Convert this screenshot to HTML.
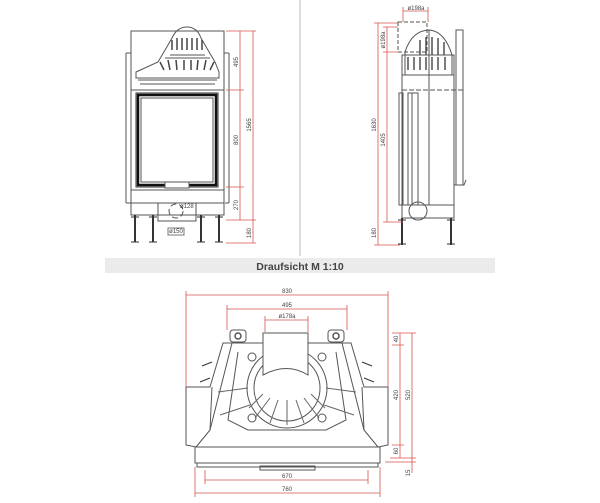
<!DOCTYPE html>
<html><head><meta charset="utf-8"><style>
html,body{margin:0;padding:0;background:#fff;width:600px;height:503px;overflow:hidden}
svg{display:block}
text{font-family:"Liberation Sans",sans-serif}
</style></head><body>
<svg width="600" height="503" viewBox="0 0 600 503" xmlns="http://www.w3.org/2000/svg">
<g fill="none" stroke="#555" stroke-width="1">
<!-- separator -->
<line x1="300" y1="0" x2="300" y2="256" stroke="#bbb"/>
<!-- FRONT VIEW -->
<rect x="131" y="31" width="93" height="172"/>
<line x1="126" y1="53" x2="126" y2="203"/>
<line x1="126" y1="53" x2="131" y2="53"/>
<line x1="229" y1="53" x2="229" y2="203"/>
<line x1="224" y1="53" x2="229" y2="53"/>
<line x1="131" y1="90" x2="224" y2="90"/>
<!-- hood -->
<path d="M136 78 L136 72 L158 62 L168 45 L172 38 Q177 27 187 27 Q197 27 201 38 L205 45 L215 62 L219 72 L219 78 Z"/>
<path d="M138 80 L217 80 M140 84 L215 84"/>
<g stroke="#444" stroke-width="1.5">
<line x1="172" y1="40" x2="172" y2="50"/><line x1="177" y1="38" x2="177" y2="50"/><line x1="182" y1="38" x2="182" y2="50"/><line x1="187" y1="38" x2="187" y2="50"/><line x1="192" y1="38" x2="192" y2="50"/><line x1="197" y1="38" x2="197" y2="50"/><line x1="202" y1="40" x2="202" y2="50"/>
<line x1="160" y1="62" x2="164" y2="70"/><line x1="168" y1="60" x2="170" y2="70"/><line x1="176" y1="60" x2="177" y2="70"/><line x1="184" y1="60" x2="184" y2="70"/><line x1="191" y1="60" x2="191" y2="70"/><line x1="198" y1="60" x2="197" y2="70"/><line x1="206" y1="60" x2="204" y2="70"/><line x1="214" y1="62" x2="210" y2="70"/>
</g>
<path d="M170 55 L205 55 M165 58 L210 58"/>
<!-- door -->
<rect x="136" y="93" width="82" height="94" stroke="#333"/>
<rect x="138" y="95" width="78" height="90" stroke="#111" stroke-width="2.5"/>
<rect x="141" y="98" width="72" height="84"/>
<rect x="165" y="182" width="24" height="6" fill="#fff"/>
<line x1="131" y1="190" x2="224" y2="190"/>
<line x1="126" y1="203" x2="229" y2="203" stroke-dasharray="6,3"/>
<path d="M131 203 L131 215 L224 215 L224 203"/>
<rect x="158" y="203" width="38" height="18"/>
<circle cx="176" cy="211" r="7" stroke-dasharray="6,3"/>
<g stroke="#333" stroke-width="2">
<line x1="135" y1="215" x2="135" y2="242"/><line x1="153" y1="215" x2="153" y2="242"/><line x1="201" y1="215" x2="201" y2="242"/><line x1="219" y1="215" x2="219" y2="242"/>
</g>
<g stroke="#333"><path d="M131 242 h8 M149 242 h8 M197 242 h8 M215 242 h8 M131 217 h8 M149 217 h8 M197 217 h8 M215 217 h8"/></g>
<rect x="168" y="228" width="16" height="7" stroke="#777"/>
<!-- SIDE VIEW -->
<rect x="398" y="22" width="29" height="30" stroke-dasharray="4,2"/>
<path d="M405 75 L405 52 Q412 30 430 30 Q445 32 452 55 L452 75"/>
<g stroke="#444" stroke-width="1.4"><line x1="420" y1="40" x2="420" y2="55"/><line x1="426" y1="37" x2="426" y2="55"/><line x1="432" y1="37" x2="432" y2="55"/><line x1="438" y1="38" x2="438" y2="55"/><line x1="444" y1="42" x2="444" y2="55"/>
<line x1="408" y1="57" x2="408" y2="70"/><line x1="414" y1="57" x2="414" y2="70"/><line x1="420" y1="57" x2="420" y2="70"/><line x1="426" y1="57" x2="426" y2="70"/><line x1="432" y1="57" x2="432" y2="70"/><line x1="438" y1="57" x2="438" y2="70"/><line x1="445" y1="57" x2="445" y2="70"/></g>
<rect x="402" y="55" width="52" height="150"/>
<line x1="402" y1="75" x2="454" y2="75"/>
<line x1="429" y1="30" x2="429" y2="205"/>
<line x1="402" y1="90" x2="464" y2="90" stroke-dasharray="5,2"/>
<rect x="399" y="93" width="4" height="112"/>
<rect x="408" y="93" width="4" height="112"/>
<rect x="412" y="93" width="6" height="112"/>
<rect x="456" y="30" width="7" height="155"/>
<path d="M454 185 L464 185 L466 180"/>
<rect x="402" y="205" width="52" height="13"/>
<circle cx="418" cy="211" r="9"/>
<g stroke="#333" stroke-width="2"><line x1="402" y1="218" x2="402" y2="245"/><line x1="451" y1="218" x2="451" y2="245"/></g>
<path d="M398 220 h8 M447 220 h8 M398 244 h8 M447 244 h8" stroke="#333"/>
<!-- TOP VIEW -->
<path d="M186 387 L210 387 L223 343 L351 343 L364 387 L388 387 L388 445 L378 447 L196 447 L186 445 Z"/>
<path d="M196 447 L210 430 L212 387 M378 447 L364 430 L362 387"/>
<path d="M232 343 L210 430 M342 343 L364 430"/>
<path d="M238 352 L228 420 L248 430 L326 430 L346 420 L336 352"/>
<circle cx="287" cy="388" r="40"/>
<circle cx="287" cy="388" r="33"/>
<path d="M263 333 L308 333 L308 375 Q287 362 263 375 Z" fill="#fff"/>
<g stroke="#666"><line x1="287" y1="400" x2="287" y2="425"/><line x1="278" y1="400" x2="270" y2="423"/><line x1="296" y1="400" x2="304" y2="423"/><line x1="270" y1="398" x2="255" y2="418"/><line x1="304" y1="398" x2="319" y2="418"/><line x1="263" y1="394" x2="249" y2="408"/><line x1="311" y1="394" x2="325" y2="408"/><line x1="248" y1="388" x2="218" y2="392"/><line x1="326" y1="388" x2="356" y2="392"/><line x1="250" y1="405" x2="220" y2="415"/><line x1="324" y1="405" x2="354" y2="415"/></g>
<rect x="230" y="330" width="16" height="12" rx="3"/><circle cx="238" cy="336" r="3" stroke-width="1.5"/>
<rect x="328" y="330" width="16" height="12" rx="3"/><circle cx="336" cy="336" r="3" stroke-width="1.5"/>
<circle cx="252" cy="357" r="4"/><circle cx="322" cy="357" r="4"/><circle cx="252" cy="418" r="4"/><circle cx="322" cy="418" r="4"/>
<path d="M212 362 l-10 4 M210 378 l-10 4 M362 362 l10 4 M364 378 l10 4" stroke="#333"/>
<rect x="195" y="447" width="185" height="16"/>
<rect x="197" y="463" width="181" height="4"/>
<rect x="260" y="466" width="55" height="4"/>
</g>
<!-- dimensions -->
<g stroke="#d9534f" stroke-width="0.8" fill="none">
<line x1="240" y1="31" x2="240" y2="220"/><line x1="253" y1="31" x2="253" y2="243"/>
<path d="M226 31 h30 M226 90 h18 M226 187 h18 M226 220 h30 M226 243 h30"/>
<line x1="378" y1="23" x2="378" y2="245"/><line x1="387" y1="27" x2="387" y2="222"/>
<path d="M374 23 h24 M383 27 h15 M383 52 h15 M383 222 h20 M374 245 h26"/>
<path d="M403 7 v15 M428 7 v15 M403 11 h25"/>
<line x1="186" y1="295" x2="388" y2="295"/><path d="M186 291 v96 M388 291 v96"/>
<line x1="227" y1="309" x2="347" y2="309"/><path d="M227 305 v25 M347 305 v25"/>
<line x1="265" y1="320" x2="308" y2="320"/><path d="M265 316 v16 M308 316 v16"/>
<line x1="400" y1="333" x2="400" y2="458"/><line x1="412" y1="333" x2="412" y2="473"/>
<path d="M392 333 h24 M392 345 h12 M392 445 h12 M390 458 h26 M385 462 h31"/>
<line x1="205" y1="480" x2="368" y2="480"/><path d="M205 470 v14 M368 470 v14"/>
<line x1="195" y1="493" x2="380" y2="493"/><path d="M195 467 v30 M380 467 v30"/>
</g>
<g font-size="6" fill="#444">
<text transform="translate(238,62) rotate(-90)" text-anchor="middle">495</text>
<text transform="translate(238,140) rotate(-90)" text-anchor="middle">800</text>
<text transform="translate(251,125) rotate(-90)" text-anchor="middle">1565</text>
<text transform="translate(238,205) rotate(-90)" text-anchor="middle">270</text>
<text transform="translate(251,233) rotate(-90)" text-anchor="middle">180</text>
<text x="176" y="233" text-anchor="middle">ø150</text>
<text x="180" y="208">ø128</text>
<text transform="translate(376,125) rotate(-90)" text-anchor="middle">1630</text>
<text transform="translate(385,140) rotate(-90)" text-anchor="middle">1405</text>
<text transform="translate(376,233) rotate(-90)" text-anchor="middle">180</text>
<text transform="translate(385,40) rotate(-90)" text-anchor="middle">ø198a</text>
<text x="416" y="10" text-anchor="middle">ø198a</text>
<text x="287" y="293" text-anchor="middle">830</text>
<text x="287" y="307" text-anchor="middle">495</text>
<text x="287" y="318" text-anchor="middle">ø178a</text>
<text x="287" y="478" text-anchor="middle">670</text>
<text x="287" y="491" text-anchor="middle">760</text>
<text transform="translate(398,339) rotate(-90)" text-anchor="middle">40</text>
<text transform="translate(398,395) rotate(-90)" text-anchor="middle">420</text>
<text transform="translate(398,451) rotate(-90)" text-anchor="middle">60</text>
<text transform="translate(410,395) rotate(-90)" text-anchor="middle">520</text>
<text transform="translate(410,473) rotate(-90)" text-anchor="middle">15</text>
</g>
<rect x="105" y="258" width="390" height="15" fill="#ebebeb"/>
<text x="300" y="270" text-anchor="middle" font-size="10.5" font-weight="bold" fill="#444">Draufsicht M 1:10</text>
</svg>
</body></html>
